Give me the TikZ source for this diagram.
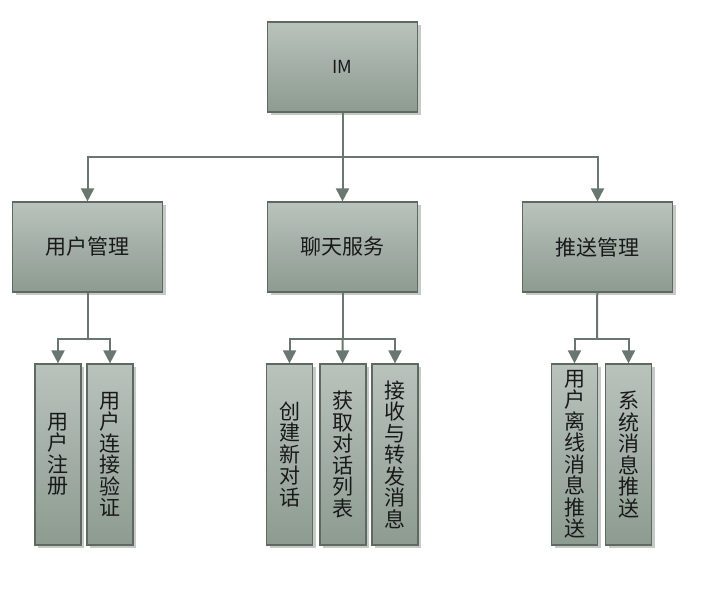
\documentclass[tikz,border=0pt]{standalone}
\usepackage{fontspec}
\setmainfont{Noto Sans CJK SC}
\usepackage{tikz}
\usetikzlibrary{arrows.meta,shadows}
\definecolor{boxtop}{HTML}{B9C3BC}
\definecolor{boxbot}{HTML}{8D9B90}
\definecolor{boxline}{HTML}{5E6A61}
\definecolor{linkgray}{HTML}{6A7770}
\definecolor{shadegray}{HTML}{C6CAC6}

\begin{document}
\begin{tikzpicture}[x=1pt,y=-1pt,node distance=180pt]
\tikzstyle{arrow}=[-{Triangle[width=13pt,length=13pt]},line width=2pt,draw=linkgray];
\tikzstyle{box}=[draw=boxline,line width=1.2pt,top color=boxtop,bottom color=boxbot,
  drop shadow={shadow xshift=3pt,shadow yshift=-3pt,fill=shadegray,opacity=1},
  text=black!90,inner sep=0pt,align=center];
\tikzstyle{bigbox}=[box,minimum width=150pt,minimum height=90pt,font=\fontsize{21}{22}\selectfont];
\tikzstyle{leaf}=[box,minimum width=46pt,minimum height=181pt,font=\fontsize{21}{21.5}\selectfont];
\useasboundingbox (0,0) rectangle (711,596);
\node (1) [bigbox,font=\fontsize{18}{20}\selectfont] at (342.5,67) {IM};
\node (3) [bigbox,below of=1] {聊天服务};
\node (2) [bigbox,left of=3,node distance=255pt] {用户管理};
\node (4) [bigbox,right of=3,node distance=255pt] {推送管理};
\node (5) [leaf] at (58,454.5) {用\\户\\注\\册};
\node (6) [leaf] at (110,454.5) {用\\户\\连\\接\\验\\证};
\node (7) [leaf] at (289.5,454.5) {创\\建\\新\\对\\话};
\node (8) [leaf] at (343,454.5) {获\\取\\对\\话\\列\\表};
\node (9) [leaf] at (395,454.5) {接\\收\\与\\转\\发\\消\\息};
\node (10) [leaf] at (574.5,454.5) {用\\户\\离\\线\\消\\息\\推\\送};
\node (11) [leaf] at (628.5,454.5) {系\\统\\消\\息\\推\\送};
\coordinate (a) at (342.5,157);
\coordinate (b) at (87.5,339);
\coordinate (c) at (342.5,339);
\coordinate (d) at (597,339);
\draw [arrow] (1) -- (3);
\draw [arrow] (a) -| (2);
\draw [arrow] (a) -| (4);
\draw [line width=2pt,draw=linkgray] (2) -- (b);
\draw [arrow] (b) -| (5);
\draw [arrow] (b) -| (6);
\draw [line width=2pt,draw=linkgray] (3) -- (c);
\draw [arrow] (c) -| (7);
\draw [arrow] (c) -- (8);
\draw [arrow] (c) -| (9);
\draw [line width=2pt,draw=linkgray] (4) -- (d);
\draw [arrow] (d) -| (10);
\draw [arrow] (d) -| (11);
\end{tikzpicture}
\end{document}
